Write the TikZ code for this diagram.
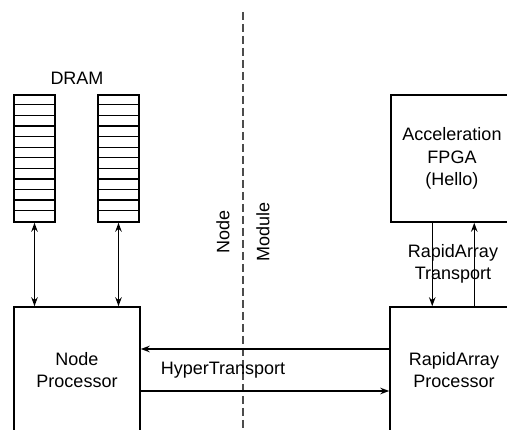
\documentclass[tikz,border=0pt]{standalone}
\usepackage{fontspec}
\setmainfont{Liberation Sans}
\usetikzlibrary{arrows.meta}
\begin{document}
\begin{tikzpicture}[x=1pt,y=-1pt,
  lbl/.style={font=\fontsize{18}{22.5}\selectfont, align=center, inner sep=0pt},
  blk/.style={draw, line width=1.5pt, lbl},
  mem/.style={draw, line width=1.5pt, minimum width=41pt, minimum height=127pt, inner sep=0pt},
  conn/.style={line width=1.4pt, -{Stealth[length=9pt,width=6.5pt]}},
  bconn/.style={line width=1.4pt, {Stealth[length=9pt,width=6.5pt]}-{Stealth[length=9pt,width=6.5pt]}}]
\useasboundingbox (0,0) rectangle (507,430);
\clip (0,0) rectangle (507,430);
\fill[white] (0,0) rectangle (507,430);
% DRAM
\node[lbl] (dramlbl) at (77,78) {DRAM};
\node[mem] (d1) at (34.5,158.5) {};
\node[mem] (d2) at (118.5,158.5) {};
\foreach \i in {1,...,11}{
  \draw[line width=1.3pt] ([yshift=-\i*127/12 pt]d1.north west) -- ([yshift=-\i*127/12 pt]d1.north east);
  \draw[line width=1.3pt] ([yshift=-\i*127/12 pt]d2.north west) -- ([yshift=-\i*127/12 pt]d2.north east);
}
% blocks
\node[blk, minimum width=126pt, minimum height=126pt] (np) at (77,370) {Node\\Processor};
\node[blk, minimum width=128pt, minimum height=126pt] (rap) at (454,370) {RapidArray\\Processor};
\node[blk, minimum width=122pt, minimum height=127pt] (fpga) at (452,158.5) {Acceleration\\FPGA\\(Hello)};
% divider
\draw[gray!60!black, line width=1.4pt, dash pattern=on 8pt off 4pt] (243,12) -- (243,440);
\node[lbl, rotate=90] (nodelbl) at (223,232) {Node};
\node[lbl, rotate=90] (modlbl) at (263,232) {Module};
% DRAM connectors
\draw[bconn] (d1.south) -- (d1.south |- np.north);
\draw[bconn] (d2.south) -- (d2.south |- np.north);
% HyperTransport
\draw[conn] ([yshift=21pt]rap.west) -- ([yshift=21pt]rap.west -| np.east);
\draw[conn] ([yshift=-21pt]np.east) -- ([yshift=-21pt]np.east -| rap.west);
\node[lbl] (htlbl) at (223,370) {HyperTransport};
% RapidArray transport
\coordinate (fa) at ([xshift=42pt]fpga.south west);
\coordinate (fb) at ([xshift=84pt]fpga.south west);
\draw[conn] (fa) -- (fa |- rap.north);
\draw[conn] (fb |- rap.north) -- (fb);
\node[lbl] (ratlbl) at (453,264) {RapidArray\\Transport};
\end{tikzpicture}
\end{document}
